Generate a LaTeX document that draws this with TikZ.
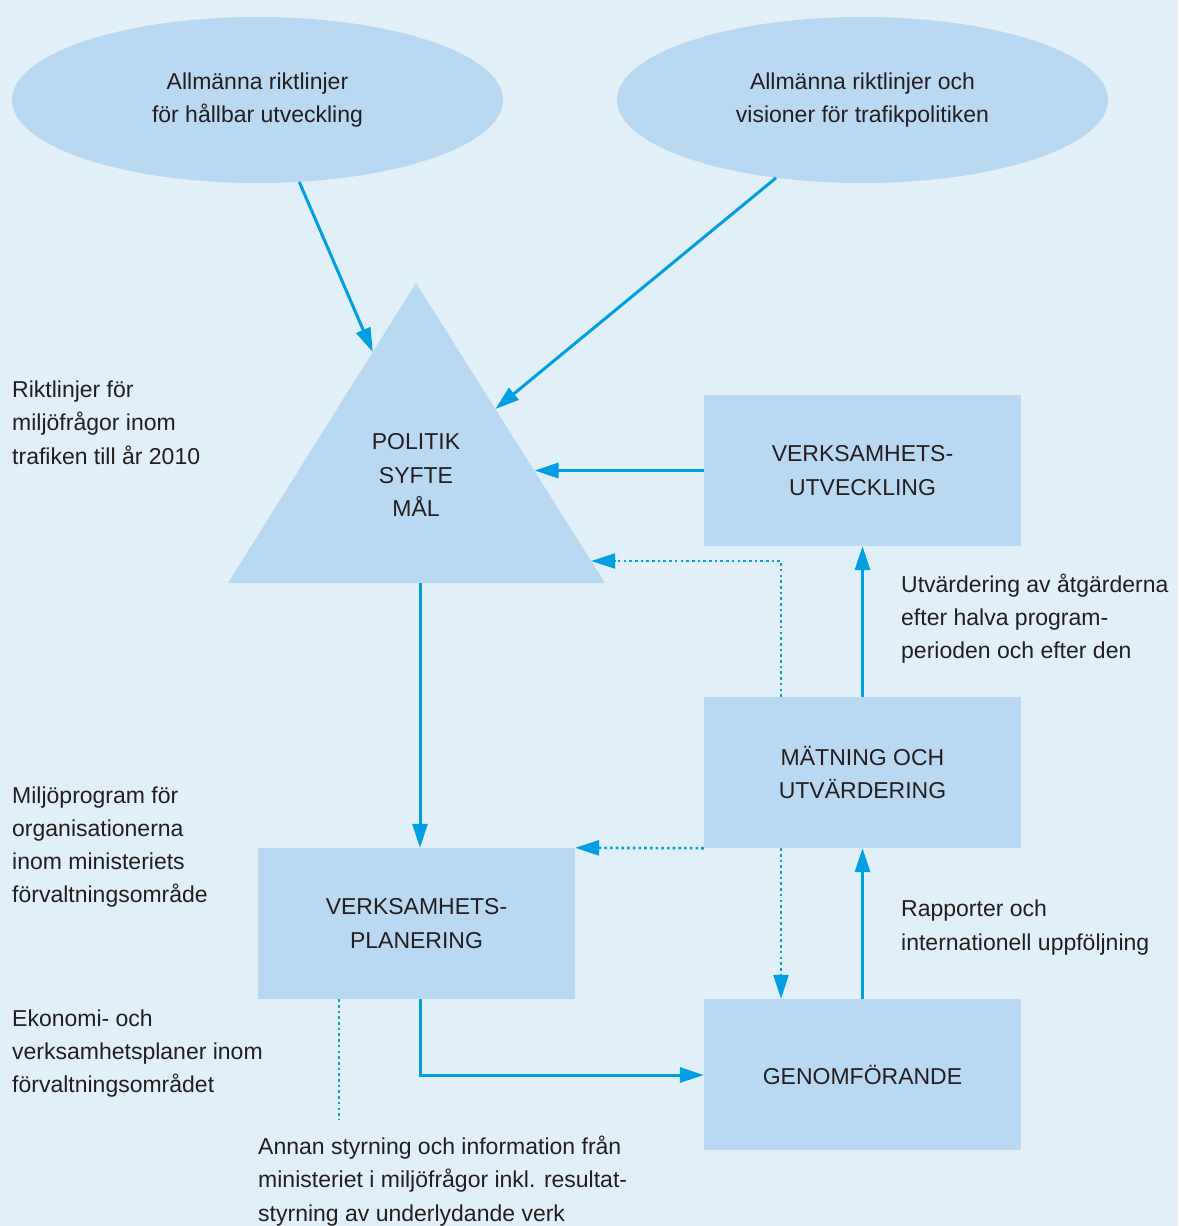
\documentclass[tikz,border=0pt]{standalone}
\usepackage{fontspec}
\setmainfont{Liberation Sans}
\usetikzlibrary{arrows.meta,shapes.geometric,calc}
\definecolor{bg}{HTML}{E1EFF9}
\definecolor{shp}{HTML}{B9D9F2}
\definecolor{arr}{HTML}{009FE3}
\definecolor{txt}{HTML}{231F20}
\begin{document}
\begin{tikzpicture}[x=1pt,y=-1pt,
  every node/.style={font=\fontsize{23}{33.3}\selectfont, text=txt, inner sep=0pt},
  ell/.style={ellipse, fill=shp, minimum width=491pt, minimum height=166pt, align=center},
  box/.style={rectangle, fill=shp, minimum width=317pt, minimum height=151pt, align=center},
  lbl/.style={align=left, anchor=west},
  conn/.style={draw=arr, line width=3pt, -{Triangle[length=24pt,width=15pt]}},
  dline/.style={draw=arr, line width=2.6pt, dash pattern=on 2.6pt off 3.1pt},
  dconn/.style={dline, -{Triangle[length=24pt,width=15pt]}}
]
\fill[bg] (0,0) rectangle (1178,1226);
\useasboundingbox (0,0) rectangle (1178,1226);

% ellipses
\node[ell] (e1) at (257.5,100) {Allmänna riktlinjer\\för hållbar utveckling};
\node[ell] (e2) at (862.5,100) {Allmänna riktlinjer och\\visioner för trafikpolitiken};

% triangle
\coordinate (apex) at (416,283);
\coordinate (bl) at (228,583);
\coordinate (br) at (605,583);
\fill[shp] (apex) -- (br) -- (bl) -- cycle;
\node[align=center] (pol) at (416,475) {POLITIK\\SYFTE\\MÅL};

% boxes
\node[box] (vu) at (862.5,470.5) {VERKSAMHETS-\\UTVECKLING};
\node[box] (mo) at (862.5,772.5) {MÄTNING OCH\\UTVÄRDERING};
\node[box] (vp) at (416.5,923.5) {VERKSAMHETS-\\PLANERING};
\node[box] (g)  at (862.5,1074.5) {GENOMFÖRANDE};

% side labels
\node[lbl] (l1) at (12,422.5) {Riktlinjer för\\miljöfrågor inom\\trafiken till år 2010};
\node[lbl] (l2) at (12,847) {Miljöprogram för\\organisationerna\\inom ministeriets\\förvaltningsområde};
\node[lbl] (l3) at (12,1053.5) {Ekonomi- och\\verksamhetsplaner inom\\förvaltningsområdet};
\node[lbl] (l4) at (901,618.5) {Utvärdering av åtgärderna\\efter halva program-\\perioden och efter den};
\node[lbl] (l5) at (901,927.5) {Rapporter och\\internationell uppföljning};
\node[lbl] (l6) at (258,1181) {Annan styrning och information från\\ministeriet i miljöfrågor inkl. resultat-\\styrning av underlydande verk};

% helper coordinates
\coordinate (t1) at ($(apex)!0.23!(bl)$);
\coordinate (t2) at ($(apex)!0.42!(br)$);
\coordinate (t3) at ($(apex)!0.627!(br)$);
\coordinate (t4) at ($(apex)!0.927!(br)$);
\coordinate (tb) at (420,583);
\coordinate (dx) at (781,561);
\coordinate (vx) at (420,1075);
\coordinate (dl) at (339,1120);

% connectors
\draw[conn] (e1.-63.4) -- (t1);
\draw[conn] (e2.-138.8) -- (t2);
\draw[conn] (vu.west) -- (vu.west -| t3);
\draw[dconn] (dx |- mo.north) -- (dx) -- (t4 |- dx);
\draw[conn] (mo.north) -- (vu.south);
\draw[conn] (tb) -- (tb |- vp.north);
\draw[dconn] (mo.south west) -- (vp.north east);
\draw[dconn] (dx |- mo.south) -- (dx |- g.north);
\draw[conn] (g.north) -- (mo.south);
\draw[conn] (vx |- vp.south) -- (vx) -- (g.west |- vx);
\draw[dline] (dl |- vp.south) -- (dl);
\end{tikzpicture}
\end{document}
